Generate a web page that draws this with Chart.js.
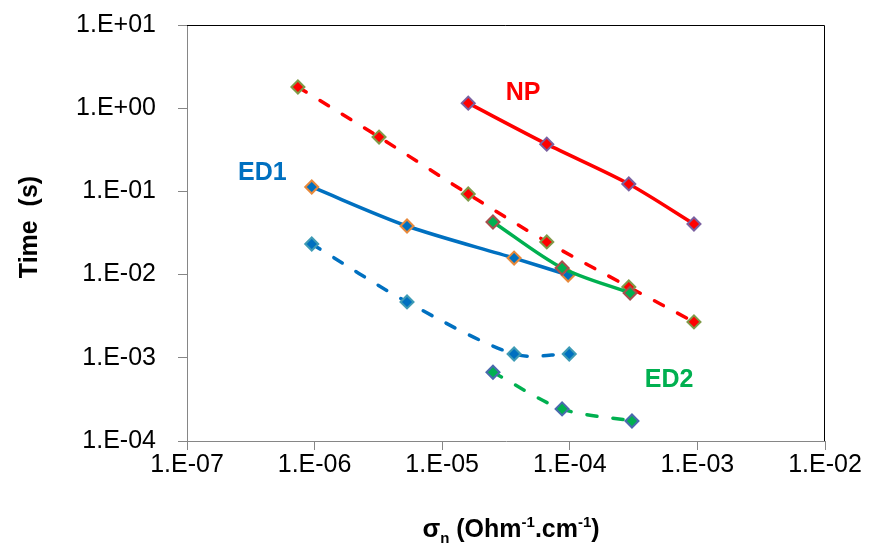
<!DOCTYPE html>
<html>
<head>
<meta charset="utf-8">
<script src="https://cdn.jsdelivr.net/npm/chart.js@4.4.0/dist/chart.umd.min.js"></script>
<style>
  html, body { margin: 0; padding: 0; background: #fff; }
  #wrap { width: 869px; height: 550px; }
</style>
</head>
<body>
<div id="wrap"><canvas id="timeChart" width="869" height="550"></canvas></div>
<script>
// tick values and labels
const xTickValues = [1e-7, 1e-6, 1e-5, 1e-4, 1e-3, 1e-2];
const xTickLabels = ['1.E-07', '1.E-06', '1.E-05', '1.E-04', '1.E-03', '1.E-02'];
const yTickValues = [1e-4, 1e-3, 1e-2, 1e-1, 1, 10];
const yTickLabels = ['1.E-04', '1.E-03', '1.E-02', '1.E-01', '1.E+00', '1.E+01'];

// NP (solid red)
const npX = [1.6e-5, 6.6e-5, 2.9e-4, 9.4e-4];
const npY = [1.15, 0.37, 0.123, 0.0406];
// red dashed
const redDashX = [7.4e-7, 3.2e-6, 1.6e-5, 6.6e-5, 2.9e-4, 9.4e-4];
const redDashY = [1.8, 0.45, 0.093, 0.0247, 0.0071, 0.0027];
// ED1 solid / dashed
const ed1X = [9.5e-7, 5.3e-6, 3.66e-5, 9.7e-5];
const ed1Y = [0.113, 0.0384, 0.0158, 0.0099];
const ed1DashX = [9.5e-7, 5.3e-6, 3.66e-5, 9.9e-5];
const ed1DashY = [0.0233, 0.00469, 0.00111, 0.00111];
// ED2 solid / dashed
const ed2X = [2.5e-5, 8.7e-5, 2.97e-4];
const ed2Y = [0.0429, 0.012, 0.006];
const ed2DashX = [2.5e-5, 8.7e-5, 3.07e-4];
const ed2DashY = [6.7e-4, 2.43e-4, 1.74e-4];

const RED = '#FF0000';
const BLUE = '#0070C0';
const GREEN = '#00B050';
const FONT = "'Liberation Sans', Arial, sans-serif";

function pts(xs, ys) {
    return xs.map((x, i) => ({ x: x, y: ys[i] }));
}

function series(label, xs, ys, color, edge, dashed) {
    return {
        label: label,
        data: pts(xs, ys),
        borderColor: color,
        backgroundColor: color,
        borderWidth: 3.5,
        borderDash: dashed ? [10, 16] : [],
        borderCapStyle: dashed ? 'round' : 'butt',
        tension: 0.3,
        pointStyle: 'rectRot',
        pointRadius: 6.5,
        pointBorderWidth: 2,
        pointBackgroundColor: color,
        pointBorderColor: edge,
        showLine: true,
        fill: false
    };
}

// plot frame (top + right) and the text labels
const framePlugin = {
    id: 'frame',
    beforeDatasetsDraw(chart) {
        const a = chart.chartArea;
        const ctx = chart.ctx;
        ctx.save();
        ctx.strokeStyle = '#000';
        ctx.lineWidth = 1;
        ctx.beginPath();
        ctx.moveTo(a.left, a.top + 0.5);
        ctx.lineTo(a.right - 0.5, a.top + 0.5);
        ctx.lineTo(a.right - 0.5, a.bottom);
        ctx.stroke();
        ctx.restore();
    },
    afterDraw(chart) {
        const ctx = chart.ctx;
        const xs = chart.scales.x, ys = chart.scales.y;
        const a = chart.chartArea;
        ctx.save();

        // series names
        const names = [
            { text: 'NP', x: 4.3e-5, y: 1.52, color: RED },
            { text: 'ED1', x: 3.9e-7, y: 0.166, color: BLUE },
            { text: 'ED2', x: 6.0e-4, y: 5.4e-4, color: GREEN }
        ];
        ctx.font = 'bold 25px ' + FONT;
        ctx.textAlign = 'center';
        ctx.textBaseline = 'middle';
        names.forEach(n => {
            ctx.fillStyle = n.color;
            ctx.fillText(n.text, xs.getPixelForValue(n.x), ys.getPixelForValue(n.y));
        });

        // y title
        ctx.fillStyle = '#000';
        ctx.save();
        ctx.translate(30, (a.top + a.bottom) / 2 - 6);
        ctx.rotate(-Math.PI / 2);
        ctx.font = 'bold 25px ' + FONT;
        ctx.fillText('Time  (s)', 0, 0);
        ctx.restore();

        // x title with sub/superscripts
        const parts = [
            { t: 'σ', f: 'bold 26px ' + FONT, dy: 0 },
            { t: 'n', f: 'bold 15px ' + FONT, dy: 6 },
            { t: ' (Ohm', f: 'bold 25px ' + FONT, dy: 0 },
            { t: '-1', f: 'bold 15px ' + FONT, dy: -10 },
            { t: '.cm', f: 'bold 25px ' + FONT, dy: 0 },
            { t: '-1', f: 'bold 15px ' + FONT, dy: -10 },
            { t: ')', f: 'bold 25px ' + FONT, dy: 0 }
        ];
        ctx.textAlign = 'left';
        ctx.textBaseline = 'alphabetic';
        let total = 0;
        parts.forEach(p => { ctx.font = p.f; p.w = ctx.measureText(p.t).width; total += p.w; });
        let cx = (a.left + a.right) / 2 + 5 - total / 2;
        const base = 537;
        parts.forEach(p => {
            ctx.font = p.f;
            ctx.fillText(p.t, cx, base + p.dy);
            cx += p.w;
        });
        ctx.restore();
    }
};

const canvas = document.getElementById('timeChart');
const ctx = canvas.getContext('2d');

new Chart(ctx, {
    type: 'scatter',
    data: {
        datasets: [
            series('NP', npX, npY, RED, '#7A60A0', false),
            series('ED2', ed2X, ed2Y, GREEN, '#A84E4C', false),
            series('ED2 dashed', ed2DashX, ed2DashY, GREEN, '#4A6AAE', true),
            series('ED1', ed1X, ed1Y, BLUE, '#E8893A', false),
            series('ED1 dashed', ed1DashX, ed1DashY, BLUE, '#3E9BB5', true),
            series('dashed', redDashX, redDashY, RED, '#7F9A48', true)
        ]
    },
    options: {
        responsive: false,
        animation: false,
        layout: {
            padding: { left: 0, top: 25, right: 44, bottom: 0 }
        },
        plugins: {
            legend: { display: false },
            tooltip: { enabled: false }
        },
        scales: {
            x: {
                type: 'logarithmic',
                min: 1e-7,
                max: 1e-2,
                afterBuildTicks: (scale) => {
                    scale.ticks = xTickValues.map(v => ({ value: v }));
                },
                afterFit: (scale) => {
                    scale.height = 109;
                    scale.paddingLeft = 0;
                    scale.paddingRight = 0;
                },
                grid: {
                    drawOnChartArea: false,
                    drawTicks: true,
                    tickLength: 9,
                    color: '#868686'
                },
                border: { color: '#868686', width: 1 },
                ticks: {
                    autoSkip: false,
                    maxRotation: 0,
                    padding: 0,
                    color: '#000',
                    font: { family: FONT, size: 25 },
                    callback: (value, index) => xTickLabels[index]
                }
            },
            y: {
                type: 'logarithmic',
                min: 1e-4,
                max: 10,
                afterBuildTicks: (scale) => {
                    scale.ticks = yTickValues.map(v => ({ value: v }));
                },
                afterFit: (scale) => {
                    scale.width = 187;
                    scale.paddingTop = 0;
                    scale.paddingBottom = 0;
                },
                grid: {
                    drawOnChartArea: false,
                    drawTicks: true,
                    tickLength: 9,
                    color: '#868686'
                },
                border: { color: '#868686', width: 1 },
                ticks: {
                    autoSkip: false,
                    padding: 22,
                    color: '#000',
                    font: { family: FONT, size: 25 },
                    callback: (value, index) => yTickLabels[index]
                }
            }
        }
    },
    plugins: [framePlugin]
});
</script>
</body>
</html>
